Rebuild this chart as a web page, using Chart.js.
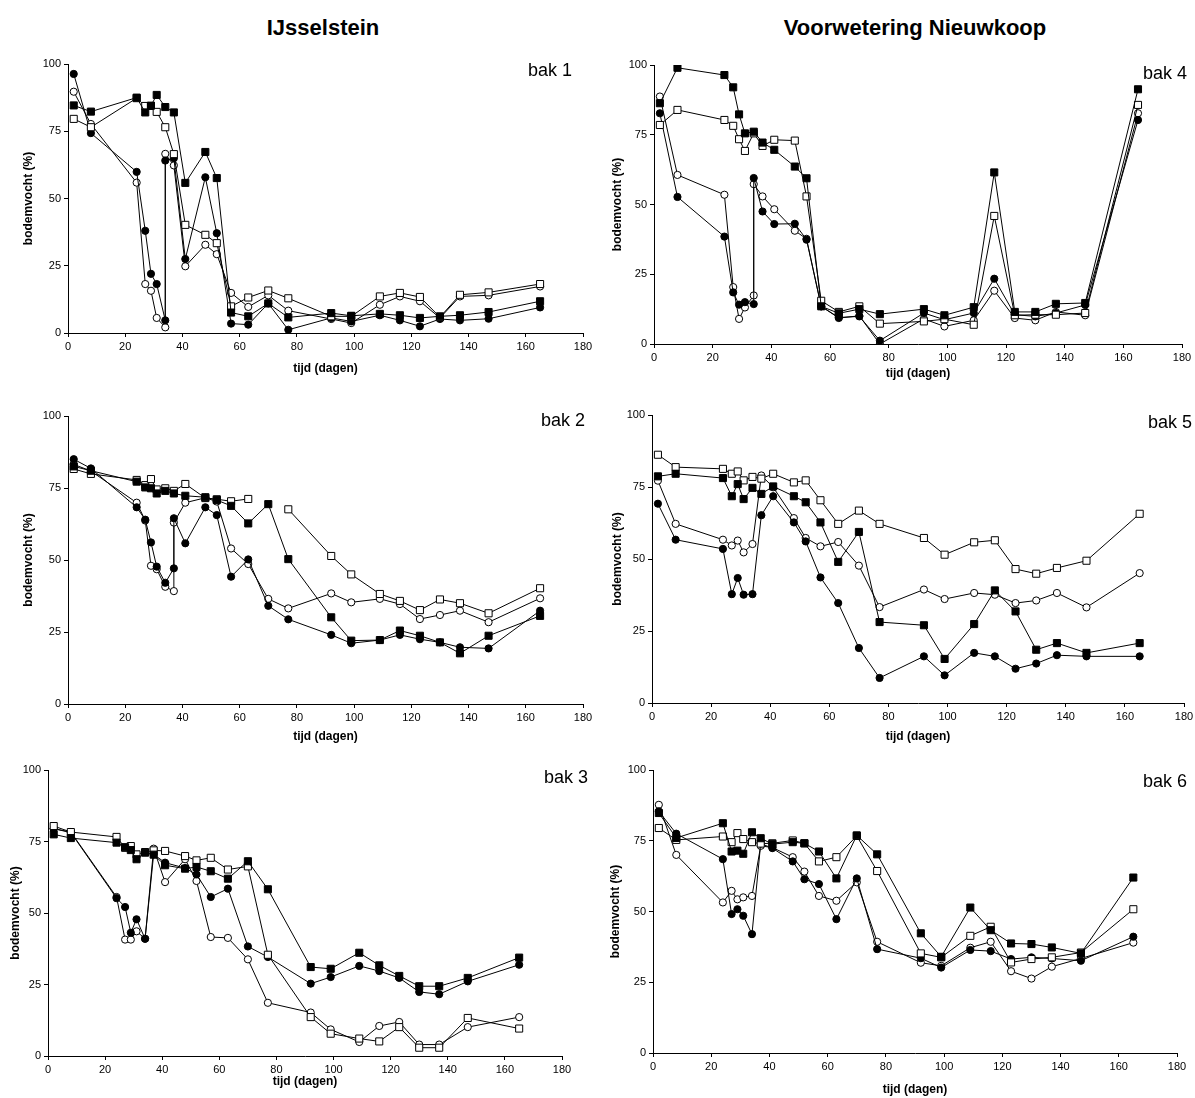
<!DOCTYPE html>
<html>
<head>
<meta charset="utf-8">
<script src="https://cdn.jsdelivr.net/npm/chart.js@4.4.1/dist/chart.umd.min.js"></script>
<style>
body { margin: 0; background: #fff; width: 1195px; height: 1098px; position: relative; overflow: hidden; font-family: "Liberation Sans", Arial, sans-serif; }
.kop { position: absolute; font-weight: bold; font-size: 22px; line-height: 1; transform: translateX(-50%); white-space: nowrap; color: #000; }
.bak { position: absolute; font-size: 18px; line-height: 1; white-space: nowrap; color: #000; }
canvas { position: absolute; }
</style>
</head>
<body>
<div class="kop" style="left:323px; top:17px">IJsselstein</div>
<div class="kop" style="left:915px; top:17px">Voorwetering Nieuwkoop</div>
<script>
// meetdagen (tijd in dagen)
const dagen = [2, 8, 24, 27, 29, 31, 34, 37, 41, 48, 52, 57, 63, 70, 77, 92, 99, 109, 116, 123, 130, 137, 147, 165];
// bak 1 en 4: twee metingen op dag 34, bak 2: twee metingen op dag 37
const dagen34 = [2, 8, 24, 27, 29, 31, 34, 34, 37, 41, 48, 52, 57, 63, 70, 77, 92, 99, 109, 116, 123, 130, 137, 147, 165];
const dagen37 = [2, 8, 24, 27, 29, 31, 34, 37, 37, 41, 48, 52, 57, 63, 70, 77, 92, 99, 109, 116, 123, 130, 137, 147, 165];

const xTicks = [0, 20, 40, 60, 80, 100, 120, 140, 160, 180];
const yTicks = [0, 25, 50, 75, 100];

// null = geen meting (lijn loopt door), NaN = onderbreking in de lijn
const bak1VolVierkant = [84.6, 82.3, 87.5, 82, 84.5, 88.5, 84, null, 82, 55.8, 67.3, 57.6, 7.6, 6.2, 11, 5.8, 7.4, 6.4, 7.1, 6.6, 5.6, 6.2, 6.6, 7.8, 11.8];
const bak1OpenVierkant = [79.6, 76.5, 87.3, 84.4, 84.4, 82.2, 76.5, null, 66.5, 40.2, 36.5, 33.4, 9.9, 13.2, 15.8, 12.9, 6.2, 6.2, 13.6, 14.9, 13.4, 5.9, 14.2, 15.1, 18.2];
const bak1VolRond = [96.3, 74.3, 59.9, 38, 22, 18.2, 4.7, 64.1, 65, 27.5, 57.9, 37.1, 3.5, 3.1, 11, 1.2, 5.6, 4.3, 6.6, 4.7, 2.5, 5.2, 4.7, 5.3, 9.5];
const bak1OpenRond = [89.7, 77.7, 55.9, 18.2, 15.7, 5.6, 2.1, 66.6, 62.3, 24.8, 32.8, 29.3, 14.9, 9.7, 14, 8.3, 5.2, 3.7, 10.5, 13.6, 11.8, 5.6, 13.6, 14, 17.3];

const bak2VolVierkant = [82.5, 81, 77.2, 75.2, 74.9, 73.1, 74, 73.1, null, 72.3, 71.8, 70.8, 68.8, 62.7, 69.4, 50.3, 30.1, 22, 22.2, 25.5, 23.7, 21.4, 17.6, 23.7, 30.6];
const bak2OpenVierkant = [81.6, 79.9, 77.8, 76, 78.1, 74.5, 74.9, 74, null, 76.4, 71.5, 71.1, 70.4, 71.2, NaN, 67.6, 51.4, 45, 38.2, 35.8, 32.6, 36.3, 35, 31.5, 40.2];
const bak2VolRond = [85, 81.8, 68.3, 64, 56.1, 47.7, 42.1, 47.1, 64.5, 55.8, 68.3, 65.6, 44.2, 50.2, 34.1, 29.4, 24, 21.1, 22.2, 24, 22.5, 21.4, 19.7, 19.3, 32.4];
const bak2OpenRond = [83.2, 80.9, 69.9, 63.7, 48, 46.8, 40.7, 39.2, 63, 69.9, 71.6, 70.3, 54, 48.6, 36.5, 33.2, 38.4, 35.3, 36.5, 34.7, 29.5, 30.9, 32.4, 28.4, 36.7];

const bak3VolVierkant = [77.5, 76.2, 74.6, 73, 72, 68.8, 71.1, 70.4, 66.7, 65.5, 66.1, 64.6, 62, 68.1, 58.3, 31.1, 30.5, 36.1, 31.7, 28, 24.4, 24.4, 27.3, 34.4];
const bak3OpenVierkant = [80.4, 78.3, 76.6, 72.8, 73.4, 70.5, 71.3, 71.9, 71.7, 69.9, 68.4, 69.3, 65.2, 66.3, 35.4, 13.6, 7.8, 6.1, 5.1, 10.1, 2.9, 2.9, 13.3, 9.6];
const bak3VolRond = [79.5, 78.1, 55.2, 52.1, 43.1, 47.8, 41, 70.5, 67.6, 65.7, 63.5, 55.6, 58.5, 38.3, 34.6, 25.3, 27.6, 31.5, 29.7, 27.3, 22.4, 21.6, 26.1, 31.9];
const bak3OpenRond = [79.5, 78.3, 55.6, 40.7, 40.7, 43.6, 41, 72.5, 60.8, 68.8, 61.2, 41.6, 41.3, 33.8, 18.6, 15.2, 9.3, 4.9, 10.5, 11.9, 4, 4, 10.1, 13.6];

const bak4VolVierkant = [86.3, 99, 96.4, 92, 82.3, 75.5, 76.1, null, 72.2, 69.6, 63.6, 59.4, 13.5, 11, 12.5, 10.7, 12.5, 10.3, 13.2, 61.5, 11.5, 11.5, 14.4, 14.7, 91.3];
const bak4OpenVierkant = [78.5, 83.9, 80.3, 78.2, 73.4, 69.2, 75.5, null, 71, 73.2, 72.9, 52.9, 15.5, 11.5, 13.5, 7.3, 8.1, 8.9, 6.9, 45.9, 10.3, 10.5, 10.5, 11.1, 85.7];
const bak4VolRond = [82.7, 52.7, 38.5, 18.5, 14.1, 15, 14.3, 59.5, 47.5, 43, 43.1, 37.4, 13.5, 9.5, 9.9, 1.2, 11.1, 8.7, 11.1, 23.4, 10.5, 9.9, 11.1, 14, 80.3];
const bak4OpenRond = [88.7, 60.6, 53.5, 20.4, 9, 13.1, 17.4, 57.3, 52.9, 48.3, 40.6, 37.7, 13.5, 9.3, 10.1, 0, 9, 6.3, 8.5, 19.1, 9.3, 8.5, 11.5, 10.3, 82.7];

const bak5VolVierkant = [78.7, 79.6, 78.1, 71.8, 76, 70.8, 74.7, 72.6, 75.2, 71.8, 69.7, 62.7, 49, 59.4, 28.1, 27, 15.3, 27.4, 39.1, 31.8, 18.5, 20.8, 17.4, 20.8];
const bak5OpenVierkant = [86.2, 81.9, 81.3, 79.6, 80.4, 77.3, 78.5, 77.9, 79.6, 76.6, 77.3, 70.4, 62.2, 66.8, 62.2, 57.3, 51.5, 55.8, 56.5, 46.5, 44.9, 46.9, 49.4, 65.7];
const bak5VolRond = [69.2, 56.7, 53.5, 37.8, 43.4, 37.6, 37.8, 65.2, 71.8, 62.7, 56.1, 43.6, 34.7, 19.1, 8.7, 16.2, 9.6, 17.4, 16.2, 11.9, 13.7, 16.6, 16.2, 16.2];
const bak5OpenRond = [77.2, 62.2, 56.7, 54.7, 56.4, 52.3, 55.2, 79, 74.9, 64.2, 57.3, 54.4, 55.9, 47.7, 33.3, 39.4, 36.1, 38.2, 37.6, 34.7, 35.6, 38.2, 33.2, 45.1];

const bak6VolVierkant = [84.8, 76, 81.2, 71.2, 71.5, 70.4, 78, 75.9, 73.8, 74.5, 74.1, 71.2, 61.7, 76.9, 70.2, 42.3, 34, 51.4, 43.4, 38.7, 38.5, 37.3, 35.2, 62];
const bak6OpenVierkant = [79.5, 75.3, 76.5, 74.5, 77.7, 75.6, 74.5, 74, 74.1, 75.1, 74.1, 67.7, 69.2, 76.7, 64.3, 35.2, 33.8, 41.4, 44.6, 32, 33.2, 33.8, 35.5, 50.8];
const bak6VolRond = [85.4, 77.5, 68.5, 49.1, 50.8, 48.5, 42, 74, 72.4, 67.7, 61.4, 59.7, 47.3, 61.7, 36.7, 33.5, 30.2, 36.4, 36, 33.2, 33.8, 33.4, 32.6, 41.1];
const bak6OpenRond = [87.7, 70, 53.2, 57.3, 54.3, 55, 55.5, 73.2, 72.6, 69.2, 64.1, 55.5, 53.8, 60.3, 39.3, 31.9, 30.8, 37.2, 39.3, 28.9, 26.3, 30.5, 33.4, 39];

// opmaak van de vier reeksen
const reeksStijl = [
    { vorm: "rect", straal: 5, vulling: "#000" },
    { vorm: "rect", straal: 5, vulling: "#fff" },
    { vorm: "circle", straal: 3.6, vulling: "#000" },
    { vorm: "circle", straal: 3.6, vulling: "#fff" },
];

// plot: [links, boven, rechts, onder] van het grafiekvlak in px
const panelen = [
    { naam: "bak 1", dagen: dagen34, reeksen: [bak1VolVierkant, bak1OpenVierkant, bak1VolRond, bak1OpenRond], plot: [68, 64, 583, 333], yGap: 40, xGap: 36, label: [572, 75.7] },
    { naam: "bak 2", dagen: dagen37, reeksen: [bak2VolVierkant, bak2OpenVierkant, bak2VolRond, bak2OpenRond], plot: [68, 416, 583, 704], yGap: 40, xGap: 33, label: [585, 425.7] },
    { naam: "bak 3", dagen: dagen, reeksen: [bak3VolVierkant, bak3OpenVierkant, bak3VolRond, bak3OpenRond], plot: [48, 770, 562, 1056], yGap: 33, xGap: 26, label: [588, 783.3] },
    { naam: "bak 4", dagen: dagen34, reeksen: [bak4VolVierkant, bak4OpenVierkant, bak4VolRond, bak4OpenRond], plot: [654, 65, 1182, 344], yGap: 37, xGap: 30, label: [1187, 79] },
    { naam: "bak 5", dagen: dagen, reeksen: [bak5VolVierkant, bak5OpenVierkant, bak5VolRond, bak5OpenRond], plot: [652, 415, 1184, 703], yGap: 35, xGap: 34, label: [1192, 428] },
    { naam: "bak 6", dagen: dagen, reeksen: [bak6VolVierkant, bak6OpenVierkant, bak6VolRond, bak6OpenRond], plot: [653, 770, 1177, 1053], yGap: 38, xGap: 37, label: [1187, 786.7] },
];

Chart.defaults.font.family = '"Liberation Sans", Arial, sans-serif';
Chart.defaults.color = "#000";

const punten = (x, y) => x.map((d, i) => ({ x: d, y: y[i] })).filter((p) => p.y !== null);

const titelFont = { size: 12, weight: "bold" };
const padBoven = 10;
const padRechts = 16;

panelen.forEach((p) => {
    const [l, t, r, b] = p.plot;
    const yW = Math.round(p.yGap + titelFont.size * 0.6);
    const xH = Math.round(p.xGap + titelFont.size * 0.6);

    const canvas = document.createElement("canvas");
    canvas.width = r - l + yW + padRechts;
    canvas.height = b - t + padBoven + xH;
    canvas.style.left = l - yW + "px";
    canvas.style.top = t - padBoven + "px";
    document.body.appendChild(canvas);

    const datasets = p.reeksen.map((waarden, i) => ({
        data: punten(p.dagen, waarden),
        borderColor: "#000",
        borderWidth: 1,
        pointStyle: reeksStijl[i].vorm,
        pointRadius: reeksStijl[i].straal,
        pointBackgroundColor: reeksStijl[i].vulling,
        pointBorderColor: "#000",
        pointBorderWidth: 1,
        fill: false,
        tension: 0,
        spanGaps: false,
    }));

    new Chart(canvas, {
        type: "line",
        data: { datasets: datasets },
        options: {
            responsive: false,
            animation: false,
            layout: { padding: { top: padBoven, right: padRechts, left: 0, bottom: 0 } },
            plugins: { legend: { display: false }, tooltip: { enabled: false } },
            scales: {
                x: {
                    type: "linear",
                    min: 0,
                    max: 180,
                    afterFit: (s) => { s.height = xH; },
                    afterBuildTicks: (s) => { s.ticks = xTicks.map((v) => ({ value: v })); },
                    ticks: { font: { size: 11 }, padding: 3, maxRotation: 0, autoSkip: false },
                    grid: { drawOnChartArea: false, drawTicks: true, tickLength: 4, color: "#000" },
                    border: { color: "#000", width: 1 },
                    title: { display: true, text: "tijd (dagen)", font: titelFont, padding: 0 },
                },
                y: {
                    min: 0,
                    max: 100,
                    afterFit: (s) => { s.width = yW; },
                    afterBuildTicks: (s) => { s.ticks = yTicks.map((v) => ({ value: v })); },
                    ticks: { font: { size: 11 }, padding: 3 },
                    grid: { drawOnChartArea: false, drawTicks: true, tickLength: 4, color: "#000" },
                    border: { color: "#000", width: 1 },
                    title: { display: true, text: "bodemvocht (%)", font: titelFont, padding: 0 },
                },
            },
        },
    });

    // label "bak n" rechtsboven
    const lab = document.createElement("div");
    lab.className = "bak";
    lab.textContent = p.naam;
    lab.style.right = 1195 - p.label[0] + "px";
    lab.style.top = p.label[1] - 15.2 + "px";
    document.body.appendChild(lab);
});
</script>
</body>
</html>
